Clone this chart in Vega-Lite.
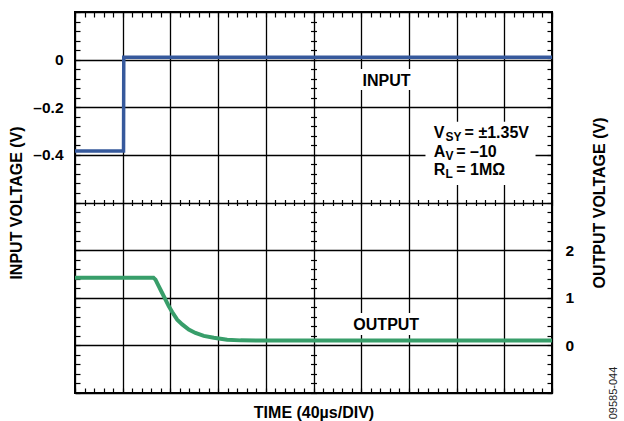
{
  "$schema": "https://vega.github.io/schema/vega-lite/v6.json",
  "width": 477,
  "height": 381,
  "autosize": {"type": "none"},
  "padding": {"left": 75, "top": 12, "right": 72, "bottom": 28},
  "background": "white",
  "config": {
    "view": {"stroke": "black", "strokeWidth": 2},
    "font": "Liberation Sans",
    "axis": {
      "domain": false,
      "labelFont": "Liberation Sans",
      "titleFont": "Liberation Sans",
      "labelFontWeight": "bold",
      "titleFontWeight": "bold",
      "labelFontSize": 15.5,
      "titleFontSize": 16,
      "labelColor": "black",
      "titleColor": "black",
      "tickColor": "black",
      "tickWidth": 1.2,
      "gridColor": "black",
      "gridOpacity": 1,
      "gridWidth": 1.3
    },
    "text": {"font": "Liberation Sans", "fontWeight": "bold", "fill": "black"}
  },
  "datasets": {
    "input": [
      {"t": 0, "v": -0.384},
      {"t": 40.7, "v": -0.384},
      {"t": 40.9, "v": 0.01},
      {"t": 400, "v": 0.01}
    ],
    "output": [
      {"t": 0, "v": 1.42},
      {"t": 65.8, "v": 1.42},
      {"t": 67.5, "v": 1.38},
      {"t": 70.3, "v": 1.24},
      {"t": 73.1, "v": 1.1},
      {"t": 75.9, "v": 0.96},
      {"t": 78.7, "v": 0.82},
      {"t": 81.5, "v": 0.7},
      {"t": 85.7, "v": 0.54},
      {"t": 89.9, "v": 0.44},
      {"t": 95.4, "v": 0.33},
      {"t": 101, "v": 0.26},
      {"t": 108, "v": 0.2},
      {"t": 116.4, "v": 0.16},
      {"t": 127.6, "v": 0.12},
      {"t": 138.8, "v": 0.105},
      {"t": 400, "v": 0.1}
    ],
    "boxes": [
      {"t1": 237.7, "t2": 284.7, "v1": -0.039, "v2": -0.128},
      {"t1": 231.9, "t2": 290.6, "v1": -1.064, "v2": -1.156},
      {"t1": 293.9, "t2": 386.2, "v1": -0.261, "v2": -0.527}
    ],
    "labels": [
      {"t": 261.2, "v": -0.1108, "label": "INPUT"},
      {"t": 261.0, "v": -1.1354, "label": "OUTPUT"}
    ],
    "notes": [
      {"t": 300.9, "v": -0.3304, "label": "V"},
      {"t": 326.7, "v": -0.3304, "label": "= ±1.35V"},
      {"t": 300.9, "v": -0.4077, "label": "A"},
      {"t": 319.7, "v": -0.4077, "label": "= –10"},
      {"t": 300.9, "v": -0.4845, "label": "R"},
      {"t": 319.7, "v": -0.4845, "label": "= 1MΩ"}
    ],
    "subs": [
      {"t": 310.7, "v": -0.343, "label": "SY"},
      {"t": 310.7, "v": -0.4203, "label": "V"},
      {"t": 310.7, "v": -0.4971, "label": "L"}
    ],
    "figid": [
      {"t": 452, "v": -1.4, "label": "09585-044"}
    ]
  },
  "resolve": {
    "scale": {"y": "independent"},
    "axis": {"x": "independent", "y": "independent"}
  },
  "layer": [
    {
      "data": {"name": "input"},
      "mark": {"type": "line", "color": "#36599c", "strokeWidth": 3.5},
      "encoding": {
        "x": {
          "field": "t", "type": "quantitative",
          "scale": {"domain": [0, 400], "nice": false, "zero": false},
          "axis": {
            "orient": "bottom",
            "values": [0, 40, 80, 120, 160, 200, 240, 280, 320, 360, 400],
            "grid": true, "ticks": false, "labels": false,
            "title": "TIME (40µs/DIV)", "titlePadding": 11
          }
        },
        "y": {
          "field": "v", "type": "quantitative",
          "scale": {"domain": [-1.4, 0.2], "nice": false, "zero": false},
          "axis": {
            "orient": "left",
            "values": [0.2, 0, -0.2, -0.4, -0.6, -0.8, -1, -1.2, -1.4],
            "grid": true, "ticks": false,
            "labelPadding": 12,
            "labelExpr": "datum.value == 0 ? '0' : datum.value == -0.2 ? '–0.2' : datum.value == -0.4 ? '–0.4' : ''",
            "title": "INPUT VOLTAGE (V)", "titlePadding": 8
          }
        }
      }
    },
    {
      "data": {"name": "output"},
      "mark": {"type": "line", "color": "#389e6a", "strokeWidth": 4},
      "encoding": {
        "x": {
          "field": "t", "type": "quantitative",
          "scale": {"domain": [0, 400], "nice": false, "zero": false},
          "axis": {
            "orient": "bottom",
            "values": [0,8,16,24,32,40,48,56,64,72,80,88,96,104,112,120,128,136,144,152,160,168,176,184,192,200,208,216,224,232,240,248,256,264,272,280,288,296,304,312,320,328,336,344,352,360,368,376,384,392,400],
            "grid": false, "labels": false, "ticks": true, "tickSize": -5, "title": null
          }
        },
        "y": {
          "field": "v", "type": "quantitative",
          "scale": {"domain": [-1, 7], "nice": false, "zero": false},
          "axis": {
            "orient": "right",
            "values": [0, 1, 2],
            "grid": false, "ticks": false,
            "labelPadding": 13,
            "title": "OUTPUT VOLTAGE (V)",
            "titleAngle": 270, "titleBaseline": "top", "titlePadding": 18
          }
        }
      }
    },
    {
      "data": {"name": "boxes"},
      "mark": {"type": "rect", "fill": "white"},
      "encoding": {
        "x": {
          "field": "t1", "type": "quantitative",
          "scale": {"domain": [0, 400], "nice": false, "zero": false},
          "axis": {
            "orient": "top",
            "values": [0,8,16,24,32,40,48,56,64,72,80,88,96,104,112,120,128,136,144,152,160,168,176,184,192,200,208,216,224,232,240,248,256,264,272,280,288,296,304,312,320,328,336,344,352,360,368,376,384,392,400],
            "grid": false, "labels": false, "ticks": true, "tickSize": -5, "title": null
          }
        },
        "x2": {"field": "t2"},
        "y": {
          "field": "v1", "type": "quantitative",
          "scale": {"domain": [-1.4, 0.2], "nice": false, "zero": false},
          "axis": {
            "orient": "left",
            "values": [0.2,0.16,0.12,0.08,0.04,0,-0.04,-0.08,-0.12,-0.16,-0.2,-0.24,-0.28,-0.32,-0.36,-0.4,-0.44,-0.48,-0.52,-0.56,-0.6,-0.64,-0.68,-0.72,-0.76,-0.8,-0.84,-0.88,-0.92,-0.96,-1,-1.04,-1.08,-1.12,-1.16,-1.2,-1.24,-1.28,-1.32,-1.36,-1.4],
            "grid": false, "labels": false, "ticks": true, "tickSize": -5, "title": null
          }
        },
        "y2": {"field": "v2"}
      }
    },
    {
      "data": {"name": "labels"},
      "mark": {"type": "text", "fontSize": 16, "align": "center", "baseline": "alphabetic"},
      "encoding": {
        "x": {
          "field": "t", "type": "quantitative",
          "scale": {"domain": [0, 400], "nice": false, "zero": false},
          "axis": {
            "orient": "bottom", "offset": -193.5,
            "values": [0,8,16,24,32,40,48,56,64,72,80,88,96,104,112,120,128,136,144,152,160,168,176,184,192,200,208,216,224,232,240,248,256,264,272,280,288,296,304,312,320,328,336,344,352,360,368,376,384,392,400],
            "grid": false, "labels": false, "ticks": true, "tickSize": 6, "title": null
          }
        },
        "y": {
          "field": "v", "type": "quantitative",
          "scale": {"domain": [-1.4, 0.2], "nice": false, "zero": false},
          "axis": {
            "orient": "right",
            "values": [0.2,0.16,0.12,0.08,0.04,0,-0.04,-0.08,-0.12,-0.16,-0.2,-0.24,-0.28,-0.32,-0.36,-0.4,-0.44,-0.48,-0.52,-0.56,-0.6,-0.64,-0.68,-0.72,-0.76,-0.8,-0.84,-0.88,-0.92,-0.96,-1,-1.04,-1.08,-1.12,-1.16,-1.2,-1.24,-1.28,-1.32,-1.36,-1.4],
            "grid": false, "labels": false, "ticks": true, "tickSize": -5, "title": null
          }
        },
        "text": {"field": "label"}
      }
    },
    {
      "data": {"name": "notes"},
      "mark": {"type": "text", "fontSize": 16, "align": "left", "baseline": "alphabetic"},
      "encoding": {
        "x": {
          "field": "t", "type": "quantitative",
          "scale": {"domain": [0, 400], "nice": false, "zero": false},
          "axis": null
        },
        "y": {
          "field": "v", "type": "quantitative",
          "scale": {"domain": [-1.4, 0.2], "nice": false, "zero": false},
          "axis": {
            "orient": "left", "offset": -241.5,
            "values": [0.2,0.16,0.12,0.08,0.04,0,-0.04,-0.08,-0.12,-0.16,-0.2,-0.24,-0.28,-0.32,-0.36,-0.4,-0.44,-0.48,-0.52,-0.56,-0.6,-0.64,-0.68,-0.72,-0.76,-0.8,-0.84,-0.88,-0.92,-0.96,-1,-1.04,-1.08,-1.12,-1.16,-1.2,-1.24,-1.28,-1.32,-1.36,-1.4],
            "grid": false, "labels": false, "ticks": true, "tickSize": 6, "title": null
          }
        },
        "text": {"field": "label"}
      }
    },
    {
      "data": {"name": "subs"},
      "mark": {"type": "text", "fontSize": 12, "align": "left", "baseline": "alphabetic"},
      "encoding": {
        "x": {
          "field": "t", "type": "quantitative",
          "scale": {"domain": [0, 400], "nice": false, "zero": false},
          "axis": null
        },
        "y": {
          "field": "v", "type": "quantitative",
          "scale": {"domain": [-1.4, 0.2], "nice": false, "zero": false},
          "axis": null
        },
        "text": {"field": "label"}
      }
    },
    {
      "data": {"name": "figid"},
      "mark": {"type": "text", "fontSize": 11, "fontWeight": "normal", "angle": 270, "align": "center", "baseline": "middle", "fill": "#222222"},
      "encoding": {
        "x": {"field": "t", "type": "quantitative", "scale": {"domain": [0, 400], "nice": false, "zero": false}, "axis": null},
        "y": {"field": "v", "type": "quantitative", "scale": {"domain": [-1.4, 0.2], "nice": false, "zero": false}, "axis": null},
        "text": {"field": "label"}
      }
    }
  ]
}
